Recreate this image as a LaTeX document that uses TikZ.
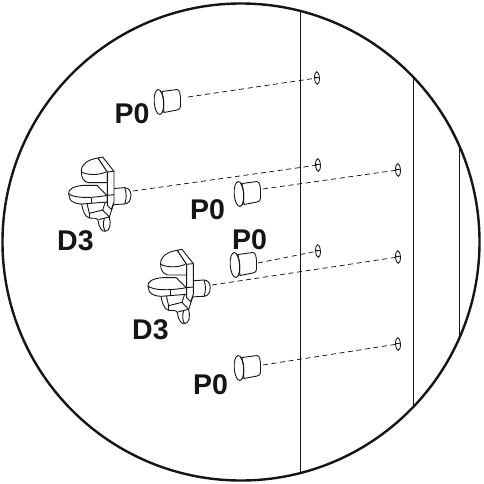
\documentclass[tikz,border=0pt]{standalone}
\usepackage{fontspec}
\setmainfont{Liberation Sans}
\definecolor{ink}{HTML}{151515}
\tikzset{
  x=1pt,y=-1pt,
  lbl/.style={inner sep=0pt,font=\fontsize{28.5}{28.5}\selectfont\bfseries,text=ink},
  dash line/.style={draw=ink,line width=0.75pt,dash pattern=on 5pt off 3.6pt},
  part/.style={draw=ink,line width=0.9pt,fill=white,line join=round},
  partline/.style={draw=ink,line width=0.9pt,line join=round},
  panel/.style={draw=ink,line width=0.8pt},
  hole/.style={draw=ink,line width=0.85pt},
  ring/.style={draw=ink,line width=2.4pt},
  pegpart/.pic={
    \path[part] (3,-10.5) -- (18,-12.5) .. controls (20.5,-12) and (21.5,-8) .. (21.5,-5) -- (21.5,4) .. controls (21.5,6.5) and (20.5,7.5) .. (18,8) -- (5,10.5) -- cycle;
    \path[part,rotate=4] (0,0) ellipse (4.8 and 12.5);
    \draw[partline] (1.5,-11) .. controls (5,-6) and (5.5,5) .. (3.5,11);
  },
  holepart/.pic={
    \draw[hole,rotate=3] (0,0) ellipse (2.4 and 6.3);
    \draw[hole] (-2.4,-0.3) -- (2.4,-0.8);
  },
  bracketpart/.pic={
    \begin{scope}[scale=1/3]
      % hook
      \path[part] (58,150) .. controls (62,175) and (68,195) .. (82,198) .. controls (95,200) and (105,196) .. (108,205) .. controls (110,225) and (120,240) .. (130,238) .. controls (145,236) and (147,215) .. (142,195) -- (157,150) -- cycle;
      \draw[partline] (74,150) -- (82,184) -- (122,174) -- (130,150);
      \draw[partline] (82,198) -- (82,184);
      \draw[partline] (122,174) -- (142,195);
      \draw[partline] (110,203) -- (142,195);
      \draw[partline] (127,200) .. controls (123,212) and (123,225) .. (129,237);
      % pin
      \path[part] (150,110) -- (188,107) .. controls (200,108) and (206,116) .. (207,128) .. controls (207,145) and (200,155) .. (188,156) -- (150,158) -- cycle;
      \draw[partline] (188,107) .. controls (194,120) and (194,143) .. (188,156);
      % upper disc
      \path[part] (108,18) .. controls (78,22) and (56,38) .. (58,60) .. controls (58,78) and (65,88) .. (78,92) -- (136,92) -- (136,60) -- cycle;
      \draw[partline] (58,60) .. controls (78,70) and (110,70) .. (132,60);
      % lower disc
      \path[part] (136,132) -- (105,100) -- (65,100) .. controls (35,102) and (18,112) .. (20,125) -- (24,142) .. controls (32,152) and (45,156) .. (60,156) -- (136,150) -- cycle;
      \draw[partline] (20,125) .. controls (35,138) and (80,140) .. (136,130);
      \draw[partline] (88,137) -- (88,154);
      % plate
      \path[part] (108,18) -- (122,15) -- (156,58) -- (156,150) -- (148,172) -- (136,160) -- (136,60) -- cycle;
      \draw[partline] (136,60) -- (156,58);
      \draw[partline] (136,130) -- (156,128);
    \end{scope}
  }
}
\begin{document}
\begin{tikzpicture}
\useasboundingbox (0,0) rectangle (483,484);
\node[circle,inner sep=0pt,minimum size=0pt] (ringc) at (241,242) {};
\begin{scope}
  \clip (241,242) circle (238);
  \coordinate (pa) at (300,0); \coordinate (pb) at (300,484);
  \coordinate (qa) at (413.5,0); \coordinate (qb) at (413.5,484);
  \coordinate (ra) at (459,0); \coordinate (rb) at (459,484);
  \draw[panel] (pa) -- (pb);
  \draw[panel] (qa) -- (qb);
  \draw[panel] (ra) -- (rb);
\end{scope}
\draw[ring] (ringc) circle (238.5);

\coordinate (h1) at (317,78);
\coordinate (h2) at (318,165);
\coordinate (h3) at (398,170);
\coordinate (h4) at (318,251);
\coordinate (h5) at (398,257);
\coordinate (h6) at (398,344);
\foreach \h in {h1,h2,h3,h4,h5,h6} \pic at (\h) {holepart};

\coordinate (s1) at (188,97);
\coordinate (s2) at (133,191);
\coordinate (s3) at (263,189);
\coordinate (s4) at (212,285);
\coordinate (s5) at (258,263);
\coordinate (s6) at (263,365);
\draw[dash line] (s1) -- (h1);
\draw[dash line] (s2) -- (h2);
\draw[dash line] (s3) -- (h3);
\draw[dash line] (s4) -- (h5);
\draw[dash line] (s5) -- (h4);
\draw[dash line] (s6) -- (h6);

\pic at (159,102) {pegpart};
\pic at (239,194) {pegpart};
\pic at (235,265) {pegpart};
\pic at (239,368) {pegpart};
\pic at (62,152) {bracketpart};
\pic at (141.3,244.3) {bracketpart};

\node[lbl,anchor=west] (t1) at (114.5,114) {P0};
\node[lbl,anchor=west] (t2) at (190,210) {P0};
\node[lbl,anchor=west] (t3) at (232,240) {P0};
\node[lbl,anchor=west] (t4) at (193,385) {P0};
\node[lbl,anchor=west] (t5) at (57,241) {D3};
\node[lbl,anchor=west] (t6) at (132,330) {D3};
\end{tikzpicture}
\end{document}
